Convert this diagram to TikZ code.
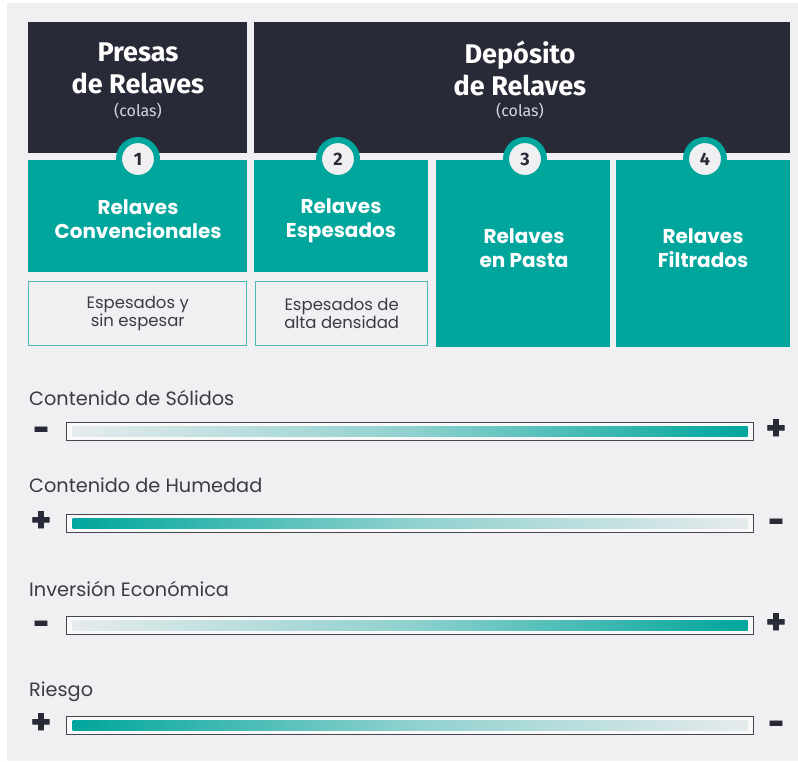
\documentclass[tikz,border=0pt]{standalone}
\usepackage{fontspec}
\setmainfont{Poppins}
\newfontfamily\dinfont{Fira Sans}
\newfontfamily\signfont[BoldFeatures={FakeBold=2}]{Fira Sans}
\definecolor{navy}{HTML}{282A37}
\definecolor{tealc}{HTML}{00A69C}
\definecolor{panel}{HTML}{F0F0F2}
\definecolor{inkgray}{HTML}{3A3B45}
\definecolor{tealline}{HTML}{4DB8B1}
\definecolor{barlight}{HTML}{E6EBED}
\definecolor{framegray}{HTML}{45464F}
\definecolor{colasgray}{HTML}{D4D5DC}
\tikzset{
	box/.style 2 args={minimum width=#1,minimum height=#2,inner sep=0pt,outer sep=0pt,anchor=north west},
	darkbox/.style={fill=navy},
	tealbox/.style={fill=tealc},
	tealtxt/.style={text=white,align=center,inner sep=0pt,font=\fontsize{20}{24}\selectfont\bfseries},
	outbox/.style={fill=panel,draw=tealline,line width=1.4pt,text=inkgray,align=center,font=\fontsize{16.5}{18.5}\selectfont},
	title/.style={text=white,align=center,inner sep=0pt,font=\dinfont\fontsize{27}{32}\selectfont\bfseries},
	colas/.style={text=colasgray,inner sep=0pt,font=\dinfont\fontsize{16}{18}\selectfont},
	numdot/.style={circle,fill=panel,draw=tealc,line width=6pt,minimum size=38pt,inner sep=0pt,text=navy,font=\dinfont\fontsize{18}{20}\selectfont\bfseries},
	lbl/.style={anchor=base west,inner sep=0pt,text=inkgray,font=\fontsize{19.3}{21}\selectfont},
	barframe/.style={minimum width=687pt,minimum height=18pt,inner sep=0pt,anchor=north west,draw=framegray,line width=1.4pt,fill=panel!40!white},
	barfill/.style 2 args={minimum width=675pt,minimum height=10.5pt,inner sep=0pt,left color=#1,right color=#2,middle color=tealc!38!barlight},
	sign/.style={inner sep=0pt,text=navy,font=\signfont\fontsize{38}{38}\selectfont\bfseries}
}
\begin{document}
\begin{tikzpicture}[x=1pt,y=-1pt]
	\useasboundingbox (0,0) rectangle (798,761);
	\fill [white] (0,0) rectangle (798,761);
	\fill [panel] (7,3) rectangle (798,761);

	% headers
	\node [box={219pt}{131pt},darkbox] (presas) at (28,22) {};
	\node [box={536pt}{131pt},darkbox] (deposito) at (254,22) {};
	\node [title] (tpresas) at (138,68) {Presas\\de Relaves};
	\node [colas] (cpresas) at (138,111) {(colas)};
	\node [title] (tdeposito) at (520,68) {Depósito\\de Relaves};
	\node [colas] (cdeposito) at (520,111) {(colas)};

	% tailings types
	\node [box={219pt}{112pt},tealbox] (conv) at (28,160) {};
	\node [box={174pt}{112pt},tealbox] (espesados) at (254,160) {};
	\node [box={174pt}{187pt},tealbox] (pasta) at (436,160) {};
	\node [box={174pt}{187pt},tealbox] (filtrados) at (616,160) {};
	\node [tealtxt] (tconv) at (138,219.5) {Relaves\\Convencionales};
	\node [tealtxt] (tespesados) at (341,221) {Relaves\\Espesados};
	\node [tealtxt] (tpasta) at (524,248.5) {Relaves\\en Pasta};
	\node [tealtxt] (tfiltrados) at (703,248.5) {Relaves\\Filtrados};
	\node [box={218pt}{64pt},outbox] (sinesp) at (28.7,281.7) {Espesados y\\sin espesar};
	\node [box={172pt}{64pt},outbox] (altaden) at (255.7,281.7) {Espesados de\\alta densidad};

	\node [numdot] (n1) at (138,159) {1};
	\node [numdot] (n2) at (338,159) {2};
	\node [numdot] (n3) at (525,159) {3};
	\node [numdot] (n4) at (705,159) {4};

	% scales
	\node [lbl] (lsolidos) at (29,405) {Contenido de Sólidos};
	\node [barframe] (solidos) at (66,422) {};
	\node [barfill={barlight}{tealc}] (gsolidos) at (solidos.center) {};
	\node [sign] (msolidos) at (41,434) {-};
	\node [sign] (psolidos) at (776,430) {+};

	\node [lbl] (lhumedad) at (29,492) {Contenido de Humedad};
	\node [barframe] (humedad) at (66,514) {};
	\node [barfill={tealc}{barlight}] (ghumedad) at (humedad.center) {};
	\node [sign] (phumedad) at (41,522) {+};
	\node [sign] (mhumedad) at (776,526) {-};

	\node [lbl] (linversion) at (29,596) {Inversión Económica};
	\node [barframe] (inversion) at (66,616) {};
	\node [barfill={barlight}{tealc}] (ginversion) at (inversion.center) {};
	\node [sign] (minversion) at (41,628) {-};
	\node [sign] (pinversion) at (776,624) {+};

	\node [lbl] (lriesgo) at (29,696) {Riesgo};
	\node [barframe] (riesgo) at (66,716) {};
	\node [barfill={tealc}{barlight}] (griesgo) at (riesgo.center) {};
	\node [sign] (priesgo) at (41,724) {+};
	\node [sign] (mriesgo) at (776,728) {-};
\end{tikzpicture}
\end{document}
